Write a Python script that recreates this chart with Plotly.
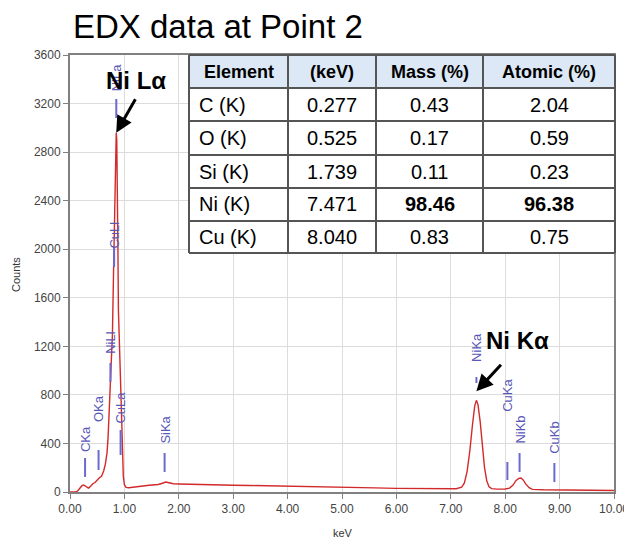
import plotly.graph_objects as go

# ---------------- data ----------------
energy_kev = [0.00, 0.10, 0.14, 0.18, 0.22, 0.25, 0.28, 0.31, 0.34, 0.38, 0.42, 0.46, 0.50,
              0.54, 0.58, 0.62, 0.65, 0.68, 0.70, 0.72, 0.74, 0.76, 0.78, 0.80, 0.82, 0.84,
              0.85, 0.86, 0.87, 0.88, 0.89, 0.90, 0.91, 0.92, 0.94, 0.96, 0.98, 1.00, 1.03,
              1.08, 1.15, 1.22, 1.30, 1.38, 1.46, 1.54, 1.62, 1.70, 1.76, 1.82, 1.90, 2.00,
              2.20, 2.40, 2.60, 2.80, 3.00, 3.30, 3.60, 4.00, 4.40, 4.80, 5.20, 5.60, 6.00,
              6.40, 6.80, 7.10, 7.20, 7.25, 7.30, 7.35, 7.40, 7.44, 7.47, 7.50, 7.54, 7.58,
              7.62, 7.66, 7.70, 7.75, 7.85, 8.00, 8.08, 8.14, 8.20, 8.25, 8.29, 8.33, 8.38,
              8.44, 8.50, 8.70, 9.00, 9.50, 10.00]
counts = [0, 0, 8, 30, 52, 58, 50, 35, 32, 48, 68, 78, 100,
          118, 130, 175, 230, 320, 450, 640, 820, 1020, 1300, 1800, 2400, 2880,
          2960, 2900, 2600, 2050, 1500, 1250, 1150, 1050, 750, 380, 130, 60, 38,
          35, 40, 45, 48, 52, 55, 58, 62, 72, 82, 76, 68, 66,
          63, 61, 60, 58, 56, 54, 52, 50, 46, 42, 38, 34, 30,
          27, 25, 27, 40, 75, 170, 340, 560, 710, 755, 720, 580, 380,
          200, 95, 45, 28, 24, 25, 32, 55, 95, 112, 115, 100, 65,
          35, 22, 18, 17, 14, 12]

line_names = ["CKa", "OKa", "NiLl", "NiLa", "CuLl", "CuLa", "SiKa", "NiKa", "CuKa", "NiKb", "CuKb"]
line_kev = [0.277, 0.525, 0.743, 0.851, 0.811, 0.930, 1.739, 7.471, 8.040, 8.264, 8.904]
bar_top = [280, 346, 1063, 3238, 2010, 511, 321, 947, 247, 321, 239]
bar_bottom = [124, 181, 906, 3081, 1854, 305, 165, 898, 99, 165, 82]
label_bottom = [321, 568, 1129, 3295, 1994, 552, 387, 1063, 651, 387, 305]

tbl_header = ["Element", "(keV)", "Mass (%)", "Atomic (%)"]
tbl_element = ["C (K)", "O (K)", "Si (K)", "Ni (K)", "Cu (K)"]
tbl_kev = ["0.277", "0.525", "1.739", "7.471", "8.040"]
tbl_mass = ["0.43", "0.17", "0.11", "98.46", "0.83"]
tbl_atomic = ["2.04", "0.59", "0.23", "96.38", "0.75"]
bold_row = 3

peak_labels = ["Ni Lα", "Ni Kα"]
peak_tip_kev = [0.85, 7.47]
peak_tip_counts = [2960, 830]
peak_text_kev = [1.21, 8.22]
peak_text_counts = [3386, 1244]

# ---------------- geometry / style ----------------
FONT = "Arial, Liberation Sans, sans-serif"
BLUE = "#5858b8"
BODY = 8                      # default page margin of the html body
PLOT_L, PLOT_R, PLOT_T, PLOT_B = 70, 614, 55, 492   # plot area in window pixels
FIG_W, FIG_H = 632 - BODY, 542 - BODY

def px_x(p):   # window pixel -> paper x
    return (p - PLOT_L) / (PLOT_R - PLOT_L)

def px_y(p):   # window pixel -> paper y
    return (PLOT_B - p) / (PLOT_B - PLOT_T)

fig = go.Figure()

fig.add_trace(go.Scatter(x=energy_kev, y=counts, mode="lines",
                         line=dict(color="#d22a2a", width=1.4), hoverinfo="skip",
                         showlegend=False))

bx, by = [], []
for e, t, b in zip(line_kev, bar_top, bar_bottom):
    bx += [e, e, None]
    by += [b, t, None]
fig.add_trace(go.Scatter(x=bx, y=by, mode="lines", line=dict(color="#6a6ad0", width=2),
                         hoverinfo="skip", showlegend=False))

annotations = []
for n, e, lb in zip(line_names, line_kev, label_bottom):
    annotations.append(dict(x=e, y=lb, xref="x", yref="y", text=n, showarrow=False,
                            textangle=-90, xanchor="center", yanchor="bottom",
                            font=dict(family=FONT, size=13, color=BLUE), borderpad=0))

# ---- table drawn with shapes + annotations ----
col_edges_px = [189, 288, 376, 483, 615]
row_edges_px = [55, 88, 121, 155, 188, 221, 253]
shapes = []
shapes.append(dict(type="rect", xref="paper", yref="paper",
                   x0=px_x(col_edges_px[0]), x1=px_x(col_edges_px[-1]),
                   y0=px_y(row_edges_px[-1]), y1=px_y(row_edges_px[0]),
                   fillcolor="white", line=dict(width=0), layer="above"))
shapes.append(dict(type="rect", xref="paper", yref="paper",
                   x0=px_x(col_edges_px[0]), x1=px_x(col_edges_px[-1]),
                   y0=px_y(row_edges_px[1]), y1=px_y(row_edges_px[0]),
                   fillcolor="#dce8f6", line=dict(width=0), layer="above"))
for cx in col_edges_px:
    shapes.append(dict(type="line", xref="paper", yref="paper", x0=px_x(cx), x1=px_x(cx),
                       y0=px_y(row_edges_px[-1]), y1=px_y(row_edges_px[0]),
                       line=dict(color="#555555", width=2), layer="above"))
for ry in row_edges_px:
    shapes.append(dict(type="line", xref="paper", yref="paper",
                       x0=px_x(col_edges_px[0]), x1=px_x(col_edges_px[-1]),
                       y0=px_y(ry), y1=px_y(ry),
                       line=dict(color="#555555", width=2), layer="above"))

columns = [tbl_element, tbl_kev, tbl_mass, tbl_atomic]
for c, head in enumerate(tbl_header):
    xc = px_x((col_edges_px[c] + col_edges_px[c + 1]) / 2)
    yc = px_y((row_edges_px[0] + row_edges_px[1]) / 2)
    annotations.append(dict(x=xc, y=yc, xref="paper", yref="paper", text="<b>%s</b>" % head,
                            showarrow=False, xanchor="center", yanchor="middle",
                            font=dict(family=FONT, size=18, color="black")))
    for r, val in enumerate(columns[c]):
        yc = px_y((row_edges_px[r + 1] + row_edges_px[r + 2]) / 2)
        txt = "<b>%s</b>" % val if (r == bold_row and c >= 2) else val
        if c == 0:
            xx, anchor = px_x(col_edges_px[0] + 8), "left"
        else:
            xx, anchor = px_x((col_edges_px[c] + col_edges_px[c + 1]) / 2), "center"
        annotations.append(dict(x=xx, y=yc, xref="paper", yref="paper", text=txt,
                                showarrow=False, xanchor=anchor, yanchor="middle",
                                font=dict(family=FONT, size=20, color="black")))

# ---- peak call-outs ----
for lab, px_, py_ in zip(peak_labels, peak_text_kev, peak_text_counts):
    annotations.append(dict(x=px_, y=py_, xref="x", yref="y", text="<b>%s</b>" % lab,
                            showarrow=False, font=dict(family=FONT, size=24, color="black")))
offsets = [(20, -35), (26, -28)]
for (ax, ay), tx, ty in zip(offsets, peak_tip_kev, peak_tip_counts):
    annotations.append(dict(x=tx, y=ty, xref="x", yref="y", text="", showarrow=True,
                            ax=ax, ay=ay, arrowhead=2, arrowsize=1.1, arrowwidth=3,
                            arrowcolor="black"))

annotations.append(dict(x=px_x(16), y=px_y(275), xref="paper", yref="paper", text="Counts",
                        textangle=-90, showarrow=False, xanchor="center", yanchor="middle",
                        font=dict(family=FONT, size=11, color="#333")))
annotations.append(dict(x=px_x(343), y=px_y(533), xref="paper", yref="paper", text="keV",
                        showarrow=False, xanchor="center", yanchor="middle",
                        font=dict(family=FONT, size=11, color="#333")))

fig.update_layout(
    width=FIG_W, height=FIG_H,
    margin=dict(l=PLOT_L - BODY, r=FIG_W - (PLOT_R - BODY), t=PLOT_T - BODY,
                b=FIG_H - (PLOT_B - BODY), autoexpand=False),
    paper_bgcolor="white", plot_bgcolor="white",
    title=dict(text="EDX data at Point 2", x=(73 - BODY) / FIG_W, xanchor="left",
               y=1 - (26 - BODY) / FIG_H, yanchor="middle",
               font=dict(family=FONT, size=33, color="black")),
    annotations=annotations,
    shapes=shapes,
    showlegend=False,
)
fig.update_xaxes(range=[0, 10], dtick=1, tickformat=".2f", showgrid=True,
                 gridcolor="#dcdcdc", gridwidth=1, showline=True, linecolor="#808080",
                 linewidth=2, mirror=True, ticks="outside", ticklen=5, tickcolor="#808080",
                 tickfont=dict(family=FONT, size=12, color="#444"), zeroline=False)
fig.update_yaxes(range=[0, 3600], dtick=400, showgrid=True, gridcolor="#dcdcdc", gridwidth=1,
                 showline=True, linecolor="#808080", linewidth=2, mirror=True,
                 ticks="outside", ticklen=5, tickcolor="#808080",
                 tickfont=dict(family=FONT, size=12, color="#444"), zeroline=False)

fig.write_html("out.html")
